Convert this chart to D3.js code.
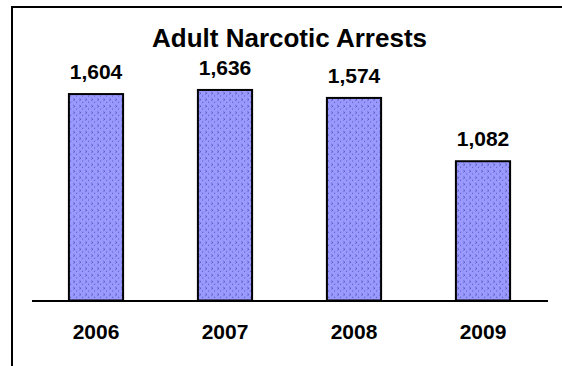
<!DOCTYPE html>
<html>
<head>
<meta charset="utf-8">
<script src="https://cdn.jsdelivr.net/npm/d3@7"></script>
<style>
  html, body { margin: 0; padding: 0; background: #fff; }
  svg { display: block; }
  text { font-family: Arial, "Liberation Sans", sans-serif; font-weight: bold; fill: #000; }
</style>
</head>
<body>
<script>
// ---- data ----
const years = ["2006", "2007", "2008", "2009"];
const arrests = [1604, 1636, 1574, 1082];
const valueLabels = ["1,604", "1,636", "1,574", "1,082"];
const chartTitle = "Adult Narcotic Arrests";

const W = 562, H = 366;

const svg = d3.select("body").append("svg")
  .attr("width", W).attr("height", H);

// pattern fill
const defs = svg.append("defs");
const pat = defs.append("pattern")
  .attr("id", "confetti")
  .attr("patternUnits", "userSpaceOnUse")
  .attr("width", 6).attr("height", 6.5);
pat.append("rect").attr("width", 6).attr("height", 6.5).attr("fill", "#9999FF");
pat.append("path")
  .attr("d", "M1.5,1.2 L2.7,2.2 L1.5,3.2")
  .attr("fill", "none").attr("stroke", "#3a3a8a").attr("stroke-width", 0.9);
pat.append("rect").attr("x", 4.2).attr("y", 4.4).attr("width", 0.9).attr("height", 1)
  .attr("fill", "#4a4a9a");

// frame (only top and left edges visible)
svg.append("path")
  .attr("d", `M12,${H + 2} L12,7 L${W + 2},7`)
  .attr("fill", "none").attr("stroke", "#000").attr("stroke-width", 2);

// scales
const x = d3.scaleBand()
  .domain(years)
  .range([31.5, 547.5])
  .paddingInner(0.58)
  .paddingOuter(0.29);

const y = d3.scaleLinear()
  .domain([0, 2000])
  .range([300.5, 300.5 - 2000 / 7.77]);

// bars
svg.append("g").selectAll("rect")
  .data(years)
  .join("rect")
  .attr("x", d => x(d))
  .attr("y", (d, i) => y(arrests[i]))
  .attr("width", x.bandwidth())
  .attr("height", (d, i) => y(0) - y(arrests[i]))
  .attr("fill", "url(#confetti)")
  .attr("stroke", "#000")
  .attr("stroke-width", 2);

// x axis (baseline + labels)
const xAxis = d3.axisBottom(x).tickSize(0).tickPadding(0);
const gx = svg.append("g")
  .attr("transform", `translate(0,${y(0)})`)
  .call(xAxis);
gx.select(".domain").attr("stroke", "#000").attr("stroke-width", 2);
gx.selectAll(".tick text")
  .attr("y", 38.5).attr("dy", null)
  .attr("font-size", 21)
  .attr("font-family", null);

// value labels
svg.append("g").selectAll("text")
  .data(years)
  .join("text")
  .attr("text-anchor", "middle")
  .attr("font-size", 21)
  .attr("x", d => x(d) + x.bandwidth() / 2)
  .attr("y", (d, i) => y(arrests[i]) - 15)
  .text((d, i) => valueLabels[i]);

// title
svg.append("text")
  .attr("text-anchor", "middle")
  .attr("font-size", 26)
  .attr("x", 289.5)
  .attr("y", 47)
  .text(chartTitle);
</script>
</body>
</html>
